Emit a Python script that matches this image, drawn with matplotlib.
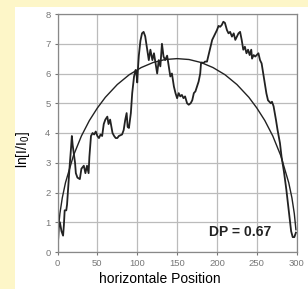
import matplotlib
matplotlib.use("Agg")
import matplotlib.pyplot as plt
from matplotlib.patches import Rectangle

plt.rcParams['font.family'] = ['Liberation Sans', 'DejaVu Sans']

pos = [0, 1, 2, 3, 5, 7, 8, 9, 11, 12, 13, 15, 17, 18, 19, 20, 22, 23, 25, 28,
       30, 33, 35, 37, 39, 40, 42, 44, 46, 48, 50, 52, 54, 56, 58, 60, 62.5, 64,
       66, 69, 71, 73, 75, 77, 81, 83, 85, 86.7, 88, 89.6, 92, 93.7, 96, 98, 99,
       100, 101, 102, 104, 106, 108, 110, 112.5, 114.5, 116.5, 119, 121, 123,
       125, 127, 129, 131, 133, 135, 137.5, 139.5, 141.5, 143.5, 146, 148, 150,
       152, 154, 156, 158, 160, 162.5, 164.6, 167, 169, 171, 173, 175, 177, 179,
       180, 181, 183, 185, 187.5, 190, 192, 194, 196, 198, 200, 202, 204, 206,
       208, 210, 212.5, 214.5, 216.5, 218.8, 221, 223, 225, 227, 229, 231, 233,
       235, 237, 239, 241, 243, 244, 246, 248, 252, 254, 256, 258, 260, 262, 264,
       267.5, 269, 271, 274, 276, 279, 281, 284, 287, 290, 293, 295, 297, 299]
ln_int = [0.1, 0.5, 1.0, 1.0, 0.7, 0.55, 0.9, 1.4, 1.4, 1.6, 2.0, 2.8, 3.5, 3.9,
          3.6, 3.4, 3.0, 2.65, 2.5, 2.45, 2.8, 2.9, 2.65, 2.9, 2.65, 3.2, 3.9,
          4.0, 3.95, 4.05, 3.9, 3.83, 3.95, 3.9, 4.3, 4.45, 4.55, 4.3, 4.45, 4.0,
          3.9, 3.83, 3.83, 3.9, 3.95, 4.1, 4.45, 4.67, 4.2, 4.17, 4.67, 5.34,
          5.9, 6.12, 6.0, 5.7, 6.2, 6.6, 7.1, 7.35, 7.4, 7.25, 6.8, 6.45, 6.8,
          6.45, 6.68, 6.35, 6.0, 6.45, 6.24, 7.0, 6.57, 6.45, 6.6, 6.24, 5.9,
          6.0, 5.56, 5.34, 5.17, 5.34, 5.23, 5.28, 5.17, 5.23, 5.0, 4.95, 5.0,
          5.1, 5.34, 5.4, 5.56, 5.73, 6.0, 6.35, 6.37, 6.35, 6.4, 6.4, 6.68, 6.9,
          7.13, 7.24, 7.35, 7.46, 7.6, 7.57, 7.63, 7.74, 7.7, 7.46, 7.35, 7.4,
          7.24, 7.35, 7.13, 7.24, 7.35, 7.4, 7.13, 6.8, 6.9, 6.68, 6.8, 6.62,
          6.8, 6.5, 6.62, 6.57, 6.68, 6.45, 6.34, 6.0, 5.67, 5.33, 5.1, 5.0,
          5.05, 4.9, 4.44, 4.1, 3.66, 3.2, 2.7, 2.1, 1.4, 0.7, 0.5, 0.5, 0.65]

# angepasste Kurve
fit_pos = [1, 3, 6, 10, 20, 30, 40, 50, 60, 75, 90, 105, 120, 135, 150, 165,
           180, 195, 210, 225, 240, 250, 260, 270, 280, 290, 294, 297, 299]
fit_val = [0.75, 1.29, 1.82, 2.33, 3.24, 3.9, 4.42, 4.84, 5.2, 5.63, 5.96, 6.2,
           6.37, 6.47, 6.5, 6.47, 6.37, 6.2, 5.96, 5.63, 5.2, 4.84, 4.42, 3.9,
           3.24, 2.33, 1.82, 1.29, 0.75]

fig = plt.figure(figsize=(3.08, 2.89), dpi=100)
fig.patch.set_facecolor('#fdf6c8')
fig.patches.append(Rectangle((15 / 308, 0), 1, 282 / 289, transform=fig.transFigure,
                             facecolor='white', edgecolor='none', zorder=-10))

ax = fig.add_axes([57.5 / 308, 37 / 289, 239.2 / 308, 238 / 289])
ax.set_zorder(1)
ax.plot(pos, ln_int, color='#222222', lw=1.3)
ax.plot(fit_pos, fit_val, color='#222222', lw=1.0)

ax.set_xlim(0, 300)
ax.set_ylim(0, 8)
ax.set_xticks([0, 50, 100, 150, 200, 250, 300])
ax.set_yticks(range(0, 9))
ax.grid(True, color='#bbbbbb', lw=0.9)
for s in ax.spines.values():
    s.set_color('#888888')
    s.set_linewidth(0.9)
ax.tick_params(labelsize=6.8, colors='#777777', length=2, width=0.8, pad=3)

ax.set_xlabel('horizontale Position', fontsize=10, labelpad=4)
ax.xaxis.set_label_coords(0.426, -0.085)
ax.set_ylabel(r'ln[I/I$_\mathregular{0}$]', fontsize=10, labelpad=6)
ax.yaxis.set_label_coords(-0.105, 0.43)
ax.text(229, 0.67, 'DP = 0.67', fontsize=10, fontweight='bold',
        ha='center', va='center', color='#222222')

fig.savefig('out.png', dpi=100)
